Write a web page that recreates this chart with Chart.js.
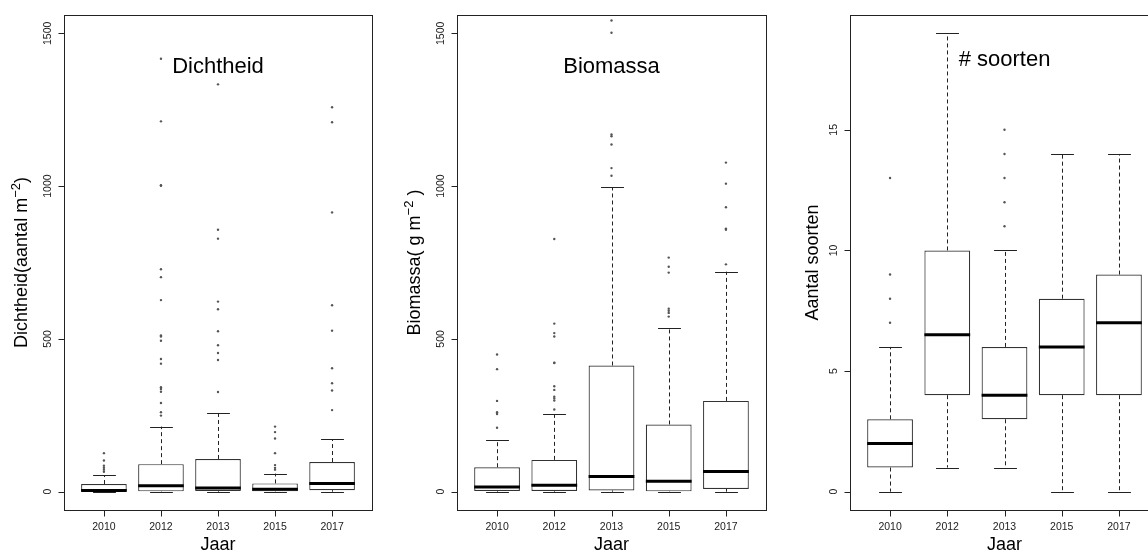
<!DOCTYPE html>
<html>
<head>
<meta charset="utf-8">
<script src="https://cdn.jsdelivr.net/npm/chart.js@4"></script>
<style>
html, body { margin: 0; padding: 0; background: #fff; overflow: hidden; width: 1148px; height: 552px; }
canvas { position: absolute; top: 0; }
</style>
</head>
<body>
<canvas id="c1" width="376" height="552" style="left:0px"></canvas>
<canvas id="c2" width="394" height="552" style="left:376px"></canvas>
<canvas id="c3" width="393" height="552" style="left:770px"></canvas>
<script>
// categories
const years = ['2010', '2012', '2013', '2015', '2017'];

// Dichtheid (aantal m-2)
const dichtLo  = [0, 0, 0, 0, 0];
const dichtQ1  = [1, 1, 2, 1, 5];
const dichtMed = [4, 19, 12, 8, 27];
const dichtQ3  = [25, 90, 107, 27, 97];
const dichtHi  = [54, 213, 258, 59, 172];
const dichtOut = [
    [126, 102, 85, 78, 72, 65],
    [1417, 1212, 1003, 1001, 728, 702, 627, 511, 508, 494, 434, 419, 342, 336, 327, 290, 260, 249],
    [1333, 857, 828, 622, 597, 525, 479, 454, 431, 326],
    [213, 195, 174, 126, 87, 78, 72],
    [1258, 1209, 914, 610, 527, 404, 355, 331, 267]
];

// Biomassa (g m-2)
const bioLo  = [0, 0, 0, 0, 0];
const bioQ1  = [2, 2, 4, 1, 9];
const bioMed = [15, 21, 50, 34, 66];
const bioQ3  = [80, 104, 413, 220, 297];
const bioHi  = [169, 253, 997, 535, 720];
const bioOut = [
    [449, 401, 297, 260, 254, 209],
    [827, 550, 519, 508, 422, 421, 345, 333, 311, 305, 298, 269],
    [1542, 1502, 1169, 1163, 1136, 1059, 1034],
    [766, 736, 717, 599, 592, 585, 573],
    [1077, 1008, 931, 861, 857, 744]
];

// Aantal soorten
const sortLo  = [0, 1, 1, 0, 0];
const sortQ1  = [1, 4, 3, 4, 4];
const sortMed = [2, 6.5, 4, 6, 7];
const sortQ3  = [3, 10, 6, 8, 9];
const sortHi  = [6, 19, 10, 14, 14];
const sortOut = [[7, 8, 9, 13], [], [11, 12, 13, 14, 15], [], []];

// tick labels
const massTicks = [0, 500, 1000, 1500];
const sortTicks = [0, 5, 10, 15];

const FONT = "'Liberation Sans', Arial, sans-serif";
Chart.defaults.font.family = FONT;

// draws whiskers, medians, frame, tick marks, rotated y labels, titles
function boxPlugin(p) {
    return {
        id: 'boxPlot',
        beforeDatasetsDraw(chart) {
            const ctx = chart.ctx, xs = chart.scales.x, ys = chart.scales.y;
            const bars = chart.getDatasetMeta(0).data;
            ctx.save();
            ctx.strokeStyle = '#222';
            ctx.lineWidth = 1;
            p.q1.forEach(function(q, i) {
                const cx = Math.round(xs.getPixelForValue(i + 1)) + 0.5;
                const w = bars[i].width;
                ctx.setLineDash([4, 3]);
                ctx.beginPath();
                ctx.moveTo(cx, ys.getPixelForValue(p.q3[i]));
                ctx.lineTo(cx, ys.getPixelForValue(p.hi[i]));
                ctx.moveTo(cx, ys.getPixelForValue(q));
                ctx.lineTo(cx, ys.getPixelForValue(p.lo[i]));
                ctx.stroke();
                ctx.setLineDash([]);
                ctx.beginPath();
                [p.hi[i], p.lo[i]].forEach(function(v) {
                    const yy = Math.round(ys.getPixelForValue(v)) + 0.5;
                    ctx.moveTo(cx - w / 4, yy);
                    ctx.lineTo(cx + w / 4, yy);
                });
                ctx.stroke();
            });
            ctx.restore();
        },
        afterDatasetsDraw(chart) {
            const ctx = chart.ctx, xs = chart.scales.x, ys = chart.scales.y;
            const bars = chart.getDatasetMeta(0).data;
            const area = chart.chartArea;
            ctx.save();
            // medians
            ctx.strokeStyle = '#000';
            ctx.lineWidth = 3;
            p.med.forEach(function(m, i) {
                const cx = xs.getPixelForValue(i + 1);
                const w = bars[i].width;
                const yy = ys.getPixelForValue(m);
                ctx.beginPath();
                ctx.moveTo(cx - w / 2, yy);
                ctx.lineTo(cx + w / 2, yy);
                ctx.stroke();
            });
            // frame
            ctx.strokeStyle = '#222';
            ctx.lineWidth = 1;
            const L = Math.round(area.left) + 0.5, B = Math.round(area.bottom) + 0.5;
            ctx.strokeRect(L, Math.round(area.top) + 0.5,
                Math.round(area.right - area.left), Math.round(area.bottom - area.top));
            // tick marks
            ctx.beginPath();
            xs.ticks.forEach(function(t) {
                const px = Math.round(xs.getPixelForValue(t.value)) + 0.5;
                ctx.moveTo(px, B);
                ctx.lineTo(px, B + 6);
            });
            ys.ticks.forEach(function(t) {
                const py = Math.round(ys.getPixelForValue(t.value)) + 0.5;
                ctx.moveTo(L - 6, py);
                ctx.lineTo(L, py);
            });
            ctx.stroke();
            // rotated y tick labels
            ctx.fillStyle = '#222';
            ctx.font = '10.5px ' + FONT;
            ctx.textAlign = 'center';
            ctx.textBaseline = 'middle';
            p.ticks.forEach(function(v) {
                ctx.save();
                ctx.translate(area.left - 16, ys.getPixelForValue(v));
                ctx.rotate(-Math.PI / 2);
                ctx.fillText(String(v), 0, 0);
                ctx.restore();
            });
            // y title with superscript
            ctx.fillStyle = '#000';
            const big = '18px ' + FONT, small = '13px ' + FONT;
            let total = 0;
            p.yTitle.forEach(function(part) {
                ctx.font = part[1] ? small : big;
                total += ctx.measureText(part[0]).width;
            });
            ctx.save();
            ctx.translate(p.titleX, (area.top + area.bottom) / 2);
            ctx.rotate(-Math.PI / 2);
            ctx.textAlign = 'left';
            ctx.textBaseline = 'alphabetic';
            let pos = -total / 2;
            p.yTitle.forEach(function(part) {
                ctx.font = part[1] ? small : big;
                ctx.fillText(part[0], pos, part[1] ? -1 : 6);
                pos += ctx.measureText(part[0]).width;
            });
            ctx.restore();
            // panel heading
            ctx.font = '22px ' + FONT;
            ctx.textAlign = 'center';
            ctx.textBaseline = 'middle';
            ctx.fillText(p.head, xs.getPixelForValue(3), ys.getPixelForValue(p.headY));
            ctx.restore();
        }
    };
}

function panel(id, p) {
    const idx = years.map(function(_, i) { return i + 1; });
    const outPts = [];
    p.out.forEach(function(arr, i) {
        arr.forEach(function(v) { outPts.push({x: i + 1, y: v}); });
    });
    return new Chart(document.getElementById(id), {
        type: 'bar',
        data: {
            datasets: [{
                data: idx.map(function(x, i) { return {x: x, y: [p.q1[i], p.q3[i]]}; }),
                backgroundColor: '#fff',
                borderColor: '#333',
                borderWidth: 1.2,
                borderSkipped: false,
                barPercentage: 0.8,
                categoryPercentage: 1
            }, {
                type: 'scatter',
                data: outPts,
                pointRadius: 1.2,
                backgroundColor: '#555',
                borderWidth: 0
            }]
        },
        options: {
            responsive: false,
            animation: false,
            events: [],
            layout: { padding: { top: 15, right: p.padRight, left: 0, bottom: 0 } },
            plugins: { legend: { display: false }, tooltip: { enabled: false } },
            scales: {
                x: {
                    type: 'linear', min: 0.3, max: 5.7, offset: false,
                    afterBuildTicks: function(s) { s.ticks = idx.map(function(v) { return {value: v}; }); },
                    afterFit: function(s) { s.height = 42; },
                    grid: { display: false, drawTicks: true, tickLength: 6 },
                    border: { display: false },
                    ticks: {
                        callback: function(v) { return years[v - 1]; },
                        font: { size: 10.5 }, color: '#222', padding: 5,
                        maxRotation: 0, autoSkip: false
                    },
                    title: { display: true, text: 'Jaar', font: { size: 18, lineHeight: 0.8 }, color: '#000', padding: 0 }
                },
                y: {
                    type: 'linear', min: p.yMin, max: p.yMax,
                    afterBuildTicks: function(s) { s.ticks = p.ticks.map(function(v) { return {value: v}; }); },
                    afterFit: function(s) { s.width = p.yWidth; },
                    grid: { display: false },
                    border: { display: false },
                    ticks: { display: false }
                }
            }
        },
        plugins: [boxPlugin(p)]
    });
}

panel('c1', {
    lo: dichtLo, q1: dichtQ1, med: dichtMed, q3: dichtQ3, hi: dichtHi, out: dichtOut,
    ticks: massTicks, yMin: -60, yMax: 1560, yWidth: 64, padRight: 3,
    titleX: 21, yTitle: [['Dichtheid', 0], ['(', 0], ['aantal m', 0], ['\u22122', 1], [')', 0]],
    head: 'Dichtheid', headY: 1390
});
panel('c2', {
    lo: bioLo, q1: bioQ1, med: bioMed, q3: bioQ3, hi: bioHi, out: bioOut,
    ticks: massTicks, yMin: -60, yMax: 1560, yWidth: 81, padRight: 3,
    titleX: 38, yTitle: [['Biomassa', 0], ['( ', 0], ['g m', 0], ['\u22122', 1], [' )', 0]],
    head: 'Biomassa', headY: 1390
});
panel('c3', {
    lo: sortLo, q1: sortQ1, med: sortMed, q3: sortQ3, hi: sortHi, out: sortOut,
    ticks: sortTicks, yMin: -0.76, yMax: 19.76, yWidth: 80, padRight: 4,
    titleX: 42, yTitle: [['Aantal soorten', 0]],
    head: '# soorten', headY: 17.9
});
</script>
</body>
</html>
